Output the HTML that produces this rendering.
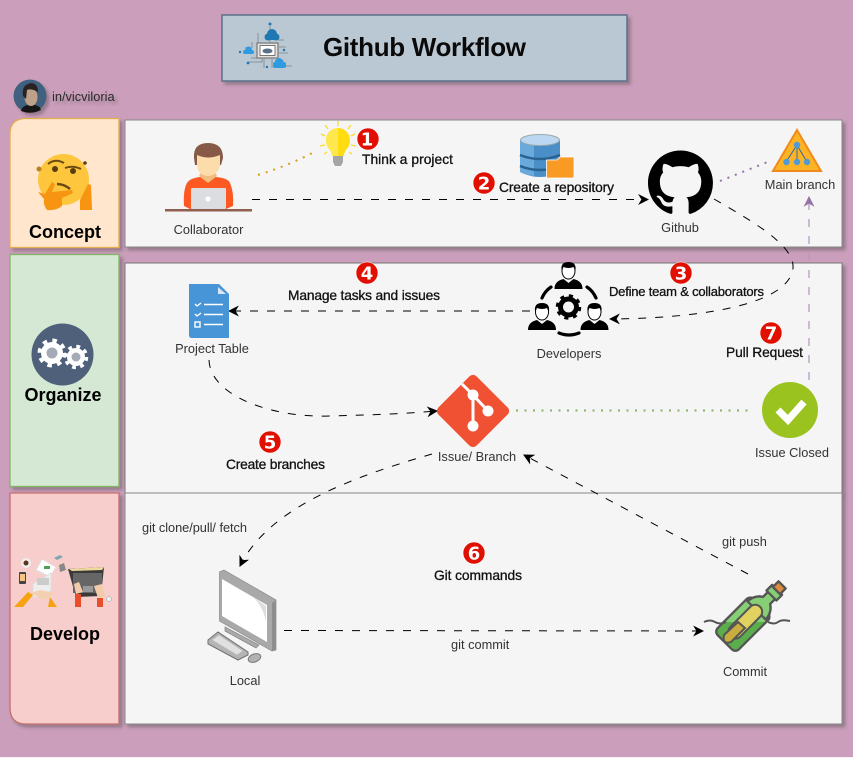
<!DOCTYPE html>
<html><head><meta charset="utf-8"><title>Github Workflow</title>
<style>
html,body{margin:0;padding:0;background:#fff;width:853px;height:758px;overflow:hidden}
svg{display:block}
text{font-family:"Liberation Sans",Arial,sans-serif;font-size:12.8px;fill:#333}
.b{fill:#111;font-size:13.8px;stroke:#111;stroke-width:.3px}
.h{font-size:18px;font-weight:bold;fill:#000;text-anchor:middle}
.n{font-family:"DejaVu Sans","Liberation Sans",sans-serif;font-size:18px;font-weight:bold;fill:#fff;text-anchor:middle}
.m{text-anchor:middle}
.d{fill:none;stroke:#000;stroke-width:1;stroke-dasharray:8 9}
</style></head><body>
<svg width="853" height="758" viewBox="0 0 853 758" xmlns="http://www.w3.org/2000/svg">
<defs>
<filter id="s" x="-10%" y="-10%" width="125%" height="125%"><feDropShadow dx="3" dy="3" stdDeviation="1.6" flood-color="#333" flood-opacity=".35"/></filter>
<marker id="a" viewBox="0 0 10 10" refX="9" refY="5" markerWidth="11" markerHeight="11" markerUnits="userSpaceOnUse" orient="auto"><path d="M0 0L10 5L0 10L3 5Z" fill="#000"/></marker>
<marker id="p" viewBox="0 0 10 10" refX="9" refY="5" markerWidth="11" markerHeight="11" markerUnits="userSpaceOnUse" orient="auto"><path d="M0 0L10 5L0 10L3 5Z" fill="#9673a6"/></marker>
<g id="person">
<path d="M-14 13Q-14 5 -5 3L0 7L5 3Q14 5 14 13Z" fill="#000"/>
<ellipse cx="0" cy="-5" rx="6.500" ry="8" fill="#fff" stroke="#000" stroke-width="1"/>
<path d="M-7 -6Q-8 -14 0 -14Q8 -14 7 -6L5 -9Q0 -7 -5 -9Z" fill="#000"/>
</g>
<clipPath id="above"><rect x="690" y="560" width="110" height="62"/></clipPath>
<g id="bottle">
<rect x="731" y="600" width="30" height="51" rx="5"/>
<path d="M733 606Q734 596 741 592V584H751V592Q758 596 759 606Z"/>
<rect x="739" y="577" width="14" height="8"/>
<rect x="741" y="570" width="10" height="8" fill="#dd8b3f"/>
</g>
</defs>
<rect width="853" height="757" fill="#cb9fbb"/>
<rect y="757" width="853" height="1" fill="#f4f0f3"/>

<!-- title -->
<rect x="222" y="15" width="405" height="66" fill="#bac8d3" stroke="#5a7089" stroke-width="1.500" filter="url(#s)"/>
<g fill="none" stroke="#8b939b" stroke-width="1">
<path d="M270 26V43M258 33V44M252 42V48M246 47V50M278 40H284M279 47H286M279 53H288M283 60V66M264 59V68M272 59V68M251 58H262V62H248M284 66H292"/>
</g>
<rect x="257" y="43" width="21" height="15" fill="#e4e4e4" stroke="#888" stroke-width="1.500"/>
<rect x="260" y="45.500" width="15" height="10" fill="#fff" stroke="#444" stroke-width=".7"/>
<ellipse cx="267.500" cy="51" rx="5" ry="2.500" fill="#5a7089"/>
<g fill="#1f78b4"><circle cx="272" cy="34" r="5"/><circle cx="268" cy="37" r="3.500"/><circle cx="276" cy="37" r="3.500"/><rect x="265" y="36" width="14" height="4" rx="2"/></g>
<g fill="#2e9be0"><circle cx="248.500" cy="50" r="3.500"/><rect x="243" y="50" width="11" height="4" rx="2"/><circle cx="279" cy="62" r="4"/><rect x="273" y="62" width="13" height="6" rx="2"/></g>
<g fill="#2478b8"><circle cx="270" cy="24" r="1.500"/><circle cx="240" cy="52" r="1.200"/><circle cx="284" cy="50" r="1.300"/><circle cx="248" cy="63" r="1.400"/><circle cx="267" cy="67" r="1.200"/></g>
<text x="323" y="56" style="font-size:26px;font-weight:bold;fill:#0a0a0a" textLength="203">Github Workflow</text>

<!-- avatar -->
<g filter="url(#s)"><circle cx="30" cy="96" r="16.500" fill="#41617f"/>
<path d="M21 111Q22 106 28 105L35 105Q40 106 41 110Q31 115 21 111Z" fill="#151515"/>
<ellipse cx="31" cy="97" rx="6.500" ry="9" fill="#bfa088"/>
<path d="M23 96Q21 84 32 83Q38 84 38 92Q31 88 27 90L26 99Z" fill="#2a2421"/></g>
<text x="52" y="101" filter="url(#s)" style="fill:#2b2b2b">in/vicviloria</text>

<!-- left lanes -->
<path d="M10 247.500V134Q10 118.500 26 118.500H119V247.500Z" fill="#ffe6cc" stroke="#e3ad4f" stroke-width="1.300" filter="url(#s)"/>
<rect x="10" y="254.500" width="109" height="232" fill="#d5e8d4" stroke="#82b366" stroke-width="1.300" filter="url(#s)"/>
<path d="M10 493V708Q10 724 26 724H119V493Z" fill="#f8cecc" stroke="#c4706c" stroke-width="1.300" filter="url(#s)"/>

<!-- panels -->
<rect x="125" y="120" width="717" height="127" fill="#f5f5f5" stroke="#888" stroke-width="1" filter="url(#s)"/>
<rect x="125" y="263" width="717" height="230" fill="#f5f5f5" stroke="#777" stroke-width="1" filter="url(#s)"/>
<rect x="125" y="493" width="717" height="231" fill="#f5f5f5" stroke="#888" stroke-width="1" filter="url(#s)"/>

<!-- thinking face -->
<circle cx="63.500" cy="179.500" r="25.500" fill="#fdc63c"/>
<path d="M48 164Q55 158 64 163M65 168Q73 165 81 169" fill="none" stroke="#6b4a12" stroke-width="2"/>
<ellipse cx="55" cy="169" rx="3" ry="3" fill="#5c3e0e"/><ellipse cx="73" cy="171" rx="3" ry="3" fill="#5c3e0e"/>
<path d="M57 184Q64 184 70 189" fill="none" stroke="#6b4a12" stroke-width="2.500"/>
<circle cx="39" cy="169" r="2.500" fill="#b9811d"/><circle cx="85" cy="163" r="1.800" fill="#5c3e0e"/>
<path d="M38 192L45 194L52 182L55 184L52 192L72 190L73 193L62 198V206Q56 211 47 210Q43 205 44 199Z" fill="#f79412"/>
<path d="M80 200L88 184L91 185L92 210H80Z" fill="#f79412"/>

<!-- organize icon -->
<circle cx="62.500" cy="354.500" r="31" fill="#4f607a"/>
<circle cx="52" cy="353" r="11" fill="#fff"/><circle cx="52" cy="353" r="12.500" fill="none" stroke="#fff" stroke-width="4" stroke-dasharray="4.500 5.316"/>
<circle cx="52" cy="353" r="5.500" fill="#a5abb6"/>
<circle cx="76" cy="357" r="9" fill="#fff"/><circle cx="76" cy="357" r="10.500" fill="none" stroke="#fff" stroke-width="3.500" stroke-dasharray="3.800 4.446"/>
<circle cx="76" cy="357" r="4.500" fill="#a5abb6"/>

<!-- develop illustration -->
<circle cx="26" cy="563" r="5" fill="#eee"/><circle cx="26" cy="563" r="2.500" fill="#5b331c"/>
<path d="M36 570L42 559L56 567L50 577Z" fill="#fff" stroke="#ddd"/><rect x="44" y="566" width="6" height="3" fill="#4aa357"/>
<rect x="19" y="572" width="7" height="12" rx="1" fill="#444"/><rect x="20" y="574" width="5" height="7" fill="#f3c684"/>
<path d="M33 584L51 573L51 590L45 597L33 597Z" fill="#eee" stroke="#ddd"/><rect x="37" y="578" width="12" height="7" fill="#ccc"/>
<path d="M59 565L64 563L66 570L60 572Z" fill="#888"/><path d="M54 558l6-3 3 2-6 3z" fill="#7fa6b0"/>
<path d="M14 607L28 592L33 595L23 607ZM48 607L50 597L57 607Z" fill="#f5a313"/>
<path d="M30 593L45 600L55 593L40 590Z" fill="#f3d0b0"/>
<path d="M68 569L104 567L101 596L76 597Z" fill="#3a3a3a"/><rect x="73" y="573" width="29" height="20" fill="#666"/><path d="M69 569L104 567L102 570L72 571Z" fill="#eedb9c"/>
<path d="M74 584L79 582L83 592L76 594ZM94 586L102 584L105 597L98 598Z" fill="#f1cbab"/>
<rect x="75" y="594" width="6" height="13" fill="#e94e2b"/><rect x="97" y="598" width="6" height="9" fill="#e94e2b"/>
<rect x="83" y="586" width="10" height="6" fill="#999"/><circle cx="109" cy="599" r="2.500" fill="#eee" stroke="#999" stroke-width=".5"/>

<text x="65" y="238" class="h">Concept</text>
<text x="63" y="401" class="h">Organize</text>
<text x="65" y="640" class="h">Develop</text>

<!-- connectors -->
<path d="M258 175Q290 165 314 152" fill="none" stroke="#dca020" stroke-width="2" stroke-dasharray="2 6"/>
<path d="M720 181L770 161" fill="none" stroke="#9673a6" stroke-width="2" stroke-dasharray="2 6"/>
<path d="M516 410.500H750" fill="none" stroke="#82b366" stroke-width="2" stroke-dasharray="2 6.500"/>
<path d="M809 380V197" fill="none" stroke="#b79bc3" stroke-width="1.300" stroke-dasharray="8 9" marker-end="url(#p)"/>
<path d="M252 199.500H648" class="d" marker-end="url(#a)"/>
<path d="M714 199C750 220 795 245 793 268C790 300 720 318 610 319" class="d" marker-end="url(#a)"/>
<path d="M530 311H229" class="d" marker-end="url(#a)"/>
<path d="M209 360C210 395 270 418 330 416C370 415 400 414 437 411" class="d" marker-end="url(#a)"/>
<path d="M432 454C360 475 270 505 240 566" class="d" marker-end="url(#a)"/>
<path d="M748 574L524 455" class="d" marker-end="url(#a)"/>
<path d="M284 630.500L703 631" class="d" marker-end="url(#a)"/>

<!-- collaborator -->
<path d="M184 206Q183 190 187 183Q190 178 200 177H216Q228 178 230 183Q234 192 233 206L226 209H190Z" fill="#fc5a22"/>
<path d="M199 176L208 183L217 176L214 170H202Z" fill="#f2bd80"/>
<path d="M194 158Q193 143 208 143Q223 143 223 158L221 165L195 165Z" fill="#865a46"/>
<path d="M197 155Q208 160 220 155V164Q219 175 208 176Q197 175 197 164Z" fill="#fcdcaa"/>
<rect x="191" y="188" width="35" height="21" rx="1" fill="#dcdde0"/><circle cx="208" cy="199" r="2.500" fill="#fff"/>
<rect x="165" y="209" width="87" height="2.500" fill="#8f5f50"/>
<text x="208.500" y="234" class="m">Collaborator</text>

<!-- bulb -->
<path d="M338 128a12 12 0 0 1 12 12q0 6-4 10-2 3-2 6h-12q0-3-2-6-4-4-4-10a12 12 0 0 1 12-12z" fill="#fede10"/>
<path d="M338 128a12 12 0 0 0-12 12q0 6 4 10 2 3 2 6h6z" fill="#ffe84d"/>
<path d="M333 156h10v6l-2 4h-6l-2-4z" fill="#a5a5a5"/>
<g stroke="#fbd92f" stroke-width="1.300"><path d="M338 121v5M325 125l3 4M351 125l-3 4M321 134l4 2M355 134l-4 2M320 146l5-1M356 146l-5-1M324 154l3-2M352 154l-3-2"/></g>

<!-- database -->
<path d="M520 140V172Q540 182 560 172V140Z" fill="#4a8fc8"/>
<path d="M520 140V172Q528 176 534 176V144Z" fill="#6aa9dc"/>
<path d="M520 155Q540 163 560 155M520 166Q540 174 560 166" fill="none" stroke="#2a628f" stroke-width="2.500"/>
<ellipse cx="540" cy="140" rx="19.500" ry="5.500" fill="#bcd7f1" stroke="#9aa" stroke-width="1"/>
<path d="M546.500 160H557L560 157H574V178H546.500Z" fill="#f89a23" stroke="#fff" stroke-width=".8"/>
<text x="499" y="192" class="b" textLength="115">Create a repository</text>

<!-- github -->
<path transform="translate(648 150.500) scale(4.060)" fill="#000" d="M8 0C3.580 0 0 3.580 0 8c0 3.540 2.290 6.530 5.470 7.590.4.070.55-.17.55-.38 0-.19-.01-.82-.01-1.490-2.010.37-2.530-.49-2.690-.94-.09-.23-.48-.94-.82-1.130-.28-.15-.68-.52-.01-.53.63-.01 1.080.58 1.230.82.72 1.210 1.870.87 2.330.66.07-.52.28-.87.51-1.070-1.780-.2-3.640-.89-3.640-3.950 0-.87.31-1.590.82-2.150-.08-.2-.36-1.020.08-2.120 0 0 .67-.21 2.200.82.64-.18 1.320-.27 2-.27.68 0 1.360.09 2 .27 1.530-1.040 2.200-.82 2.200-.82.44 1.100.16 1.920.08 2.120.51.56.82 1.270.82 2.150 0 3.070-1.870 3.750-3.650 3.950.29.25.54.73.54 1.480 0 1.070-.01 1.930-.01 2.200 0 .21.15.46.55.38A8.013 8.013 0 0016 8c0-4.420-3.580-8-8-8z"/>
<text x="680" y="232" class="m">Github</text>

<!-- main branch -->
<path d="M797 130L821 171H773Z" fill="#fdb324" stroke="#f08a1d" stroke-width="2"/>
<path d="M797 145L786 162M797 145V162M797 145L807 162" stroke="#2a69a8" stroke-width="1"/>
<circle cx="797" cy="145" r="3.200" fill="#4c9ad7"/><circle cx="786.500" cy="162" r="3.200" fill="#4c9ad7"/><circle cx="797" cy="162" r="3.200" fill="#4c9ad7"/><circle cx="807" cy="162" r="3.200" fill="#4c9ad7"/>
<text x="800" y="189" class="m">Main branch</text>

<!-- developers -->
<use href="#person" x="568.500" y="276"/><use href="#person" x="542" y="317"/><use href="#person" x="594.500" y="317"/>
<path d="M542 298Q545 291 551 287M587 287Q593 291 596 298M559 333Q569 337 579 333" fill="none" stroke="#000" stroke-width="3.200" stroke-linecap="round"/>
<circle cx="568.500" cy="307" r="8" fill="none" stroke="#000" stroke-width="5"/><circle cx="568.500" cy="307" r="11" fill="none" stroke="#000" stroke-width="3.500" stroke-dasharray="4 4.640"/>
<text x="569" y="358" class="m">Developers</text>
<text x="609" y="296" class="b" style="font-size:13px" textLength="155">Define team &amp; collaborators</text>

<!-- project table -->
<path d="M189 284H219L229 294V338H192Q189 338 189 335Z" fill="#4795d6"/>
<path d="M218 287L226 294H218Z" fill="#d6e6f5"/>
<g fill="none" stroke="#fff" stroke-width="1.400"><path d="M195 304l2 2 4-3M195 314l2 2 4-3M204 304.500H223M204 314.500H223M204 324.500H223"/><rect x="195" y="322" width="5" height="5"/></g>
<text x="212" y="353" class="m">Project Table</text>
<text x="288" y="300" class="b" textLength="152">Manage tasks and issues</text>

<!-- git -->
<rect x="446" y="384" width="54" height="54" rx="5" transform="rotate(45 473 411)" fill="#f05133"/>
<path d="M462 384L473 395V426M473 395L488 411" fill="none" stroke="#fff" stroke-width="3"/>
<circle cx="473" cy="395" r="5.500" fill="#fff"/><circle cx="488" cy="411" r="5.500" fill="#fff"/><circle cx="473" cy="426" r="5.500" fill="#fff"/>
<text x="477" y="461" class="m">Issue/ Branch</text>

<!-- issue closed -->
<circle cx="790" cy="410" r="28" fill="#9ac31f"/>
<path d="M778 410L788 420L804 402" fill="none" stroke="#fff" stroke-width="7"/>
<text x="792" y="457" class="m">Issue Closed</text>
<text x="726" y="357" class="b" textLength="77">Pull Request</text>

<text x="226" y="469" class="b" textLength="99">Create branches</text>
<text x="362" y="164" class="b" textLength="91">Think a project</text>

<!-- local -->
<path d="M219.500 572L224 570L276 600V650L272 651L219.500 621Z" fill="#a9a9a9" stroke="#8a8a8a" stroke-width=".7"/>
<path d="M272 603L276 600V650L272 651Z" fill="#8e8e8e"/>
<path d="M222 579L267 605V642L222 616Z" fill="#fff"/>
<path d="M252 596L266 606V622Q263 606 252 596Z" fill="#ddd"/>
<path d="M225 627V631L256 648L259 645Z" fill="#aaa" stroke="#808080" stroke-width=".7"/>
<path d="M208 640L218 632L248 652V655L238 660L208 644Z" fill="#b4b4b4" stroke="#6f6f6f"/>
<path d="M212 640L219 635L243 651L237 655Z" fill="#e0e0e0" stroke="#999" stroke-width=".5" stroke-dasharray="1 1"/>
<ellipse cx="254.500" cy="658" rx="6.500" ry="4" transform="rotate(-20 254.500 658)" fill="#b2b2b2" stroke="#777"/>
<text x="245" y="685" class="m">Local</text>

<!-- commit bottle -->
<g transform="rotate(45 746 621)" stroke="#555" stroke-width="2.300" stroke-linejoin="round">
<use href="#bottle" fill="#5aaf4c"/>
</g>
<g clip-path="url(#above)"><g transform="rotate(45 746 621)" stroke="#555" stroke-width="2.300" stroke-linejoin="round"><use href="#bottle" fill="#87cf77"/></g></g>
<g transform="rotate(45 746 621)" stroke="#555" stroke-width="2">
<rect x="739" y="601" width="14" height="42" rx="7" fill="#e0d161"/>
</g>
<path d="M724 635L738 622L745 628L731 642Q722 645 724 635Z" fill="#c9ad3e" stroke="#555" stroke-width="2"/>
<path d="M704 622q6-3 11 0t11 0M768 622q6 3 10 0t12-1" fill="none" stroke="#555" stroke-width="2"/>
<text x="745" y="676" class="m">Commit</text>

<!-- edge labels -->
<text x="142" y="532" textLength="105">git clone/pull/ fetch</text>
<text x="722" y="546">git push</text>
<text x="451" y="649">git commit</text>
<text x="434" y="580" class="b" textLength="88">Git commands</text>

<!-- badges -->
<g fill="#e10f00" stroke="#fff" stroke-width=".6">
<circle cx="368" cy="139" r="11"/><circle cx="484" cy="183" r="11"/><circle cx="681" cy="273" r="11"/><circle cx="367" cy="273" r="11"/><circle cx="270" cy="442" r="11"/><circle cx="474" cy="553" r="11"/><circle cx="771" cy="333" r="11"/>
</g>
<text x="367" y="145.500" class="n">1</text><text x="484" y="189.500" class="n">2</text><text x="681" y="279.500" class="n">3</text><text x="367" y="279.500" class="n">4</text><text x="270" y="448.500" class="n">5</text><text x="474" y="559.500" class="n">6</text><text x="771" y="339.500" class="n">7</text>
</svg>
</body></html>
